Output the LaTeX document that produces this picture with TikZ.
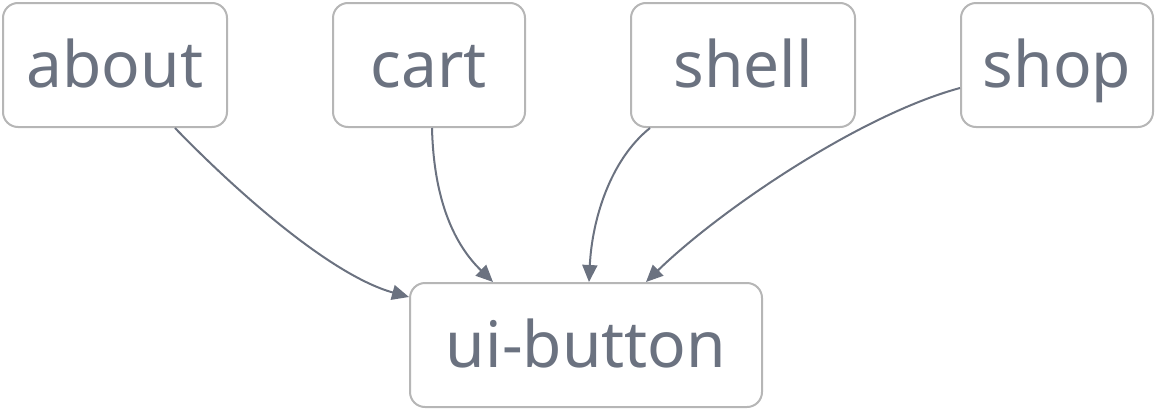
\documentclass[tikz,border=0pt]{standalone}
\usepackage{fontspec}
\setmainfont{Noto Sans}
\usepackage{xcolor}
\usetikzlibrary{arrows.meta, positioning}
\definecolor{mygray}{RGB}{107, 114, 128}
\definecolor{myborder}{RGB}{182, 182, 182}

\tikzset{
    pkg/.style={draw=myborder, line width=2pt, rounded corners=15pt, fill=white,
        text=mygray, font=\fontsize{64}{64}\selectfont, minimum height=124pt,
        text height=46pt, text depth=2pt, inner sep=0pt},
    dep/.style={mygray, line width=2pt, -{Triangle[length=17pt, width=15pt]}}
}

\begin{document}
\begin{tikzpicture}[x=1pt, y=-1pt]
    \useasboundingbox (0,0) rectangle (1156,410);
    % 包节点
    \node[pkg, minimum width=224pt] (about) at (115,65) {about};
    \node[pkg, minimum width=192pt] (cart)  at (429,65) {cart};
    \node[pkg, minimum width=224pt] (shell) at (743,65) {shell};
    \node[pkg, minimum width=192pt] (shop)  at (1057,65) {shop};
    \node[pkg, minimum width=352pt] (ui)    at (586,345) {ui-button};

    % 依赖关系
    \draw[dep] ([xshift=60pt]about.south) .. controls (235,190) and (330,275) .. ([yshift=-15pt]ui.north west);
    \draw[dep] ([xshift=3pt]cart.south) .. controls (434,210) and (460,250) .. ([xshift=-93pt]ui.north);
    \draw[dep] ([xshift=-93pt]shell.south) .. controls (610,160) and (592,220) .. ([xshift=3pt]ui.north);
    \draw[dep] ([yshift=-23pt]shop.west) .. controls (860,115) and (720,210) .. ([xshift=60pt]ui.north);
\end{tikzpicture}
\end{document}
